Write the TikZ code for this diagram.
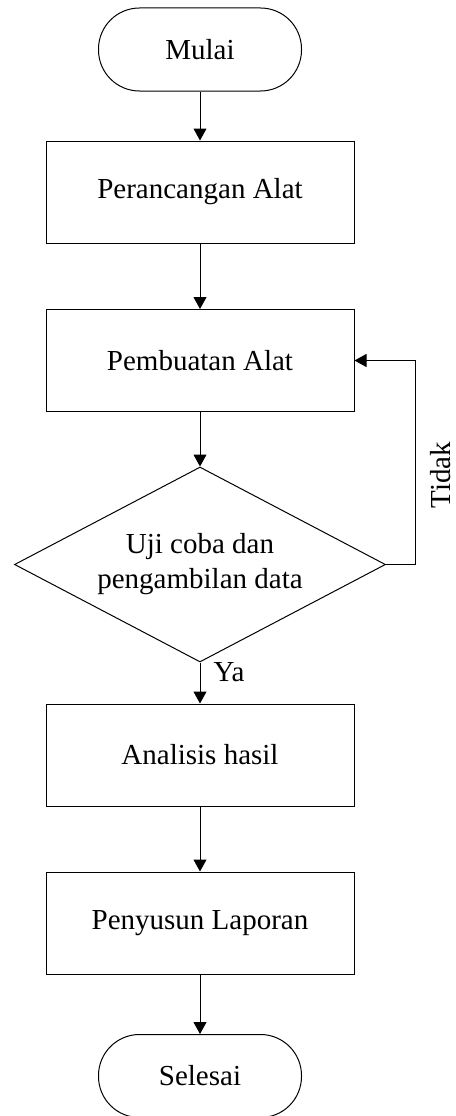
\documentclass[tikz,border=0pt]{standalone}
\usepackage{fontspec}
\setmainfont{Liberation Serif}
\usetikzlibrary{shapes.geometric,arrows.meta}
\begin{document}
\begin{tikzpicture}[x=1pt,y=-1pt,
  every node/.style={font=\fontsize{29}{35}\selectfont},
  proc/.style={draw,line width=1pt,rectangle,minimum width=308pt,minimum height=102pt,inner sep=0pt},
  term/.style={draw,line width=1pt,rectangle,rounded corners=41pt,minimum width=203pt,minimum height=83pt,inner sep=0pt},
  decision/.style={draw,line width=1pt,diamond,aspect=1.9,minimum width=371pt,minimum height=195pt,inner sep=0pt,align=center},
  conn/.style={line width=1pt,-{Triangle[length=12pt,width=13pt]}},
  plain/.style={line width=1pt}]
\useasboundingbox (0,0) rectangle (455,1116);
\node[term] (mulai) at (200,49.5) {Mulai};
\node[proc] (p1) at (200,192) {Perancangan Alat};
\node[proc] (p2) at (200,360.5) {Pembuatan Alat};
\node[decision] (d) at (200,564.5) {Uji coba dan\\pengambilan data};
\node[proc] (p3) at (200,755) {Analisis hasil};
\node[proc] (p4) at (200,923) {Penyusun Laporan};
\node[term] (selesai) at (200,1076) {Selesai};
\coordinate (fb) at (415,564.5);
\draw[conn] (mulai.south) -- (p1.north);
\draw[conn] (p1.south) -- (p2.north);
\draw[conn] (p2.south) -- (d.north);
\draw[conn] (d.south) -- (p3.north);
\draw[conn] (p3.south) -- (p4.north);
\draw[conn] (p4.south) -- (selesai.north);
\draw[conn] (d.east) -- (fb) |- (p2.east);
\node (ya) at (229,672) {Ya};
\node[rotate=90] (tidak) at (441,475) {Tidak};
\end{tikzpicture}
\end{document}
